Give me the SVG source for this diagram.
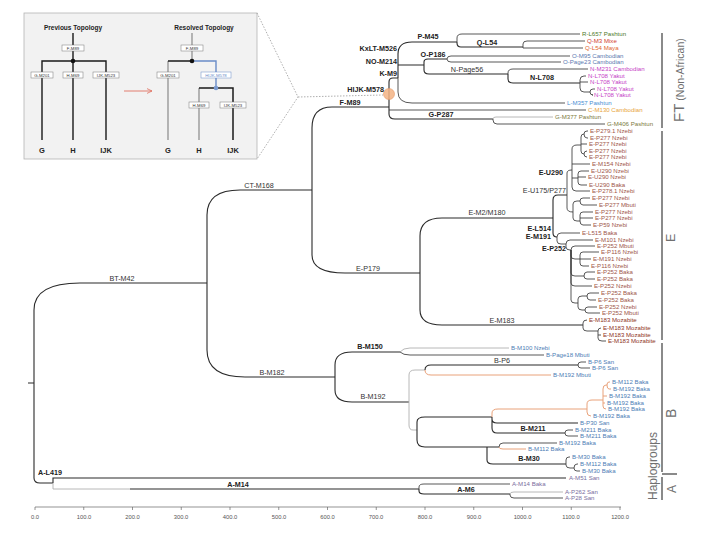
<svg xmlns="http://www.w3.org/2000/svg" width="720" height="540" viewBox="0 0 720 540">
<defs>
<style>
text{font-family:"Liberation Sans",Arial,sans-serif}
.e{fill:none;stroke:#2a2a2a;stroke-width:1.1}
.lf{fill:none;stroke:#3a3a3a;stroke-width:0.85}
.gy{fill:none;stroke:#b0b0b0;stroke-width:0.9}
.or{fill:none;stroke:#e9a27a;stroke-width:1}
.n{font-size:7.2px;fill:#333}
.nb{font-size:7.2px;fill:#222;font-weight:bold}
.l{font-size:6.1px}
.cR{fill:#4d7a2a}.cQ1{fill:#d2412c}.cQ2{fill:#e0652e}.cO{fill:#5d79b0}.cN{fill:#c640c6}
.cL{fill:#4a8fd4}.cC{fill:#e8a43a}.cG{fill:#7d7a3c}.cE{fill:#a0564a}.cM{fill:#8e3324}
.cB{fill:#4d7db5}.cA{fill:#7a6e9e}
.ib{fill:#fff;stroke:#777;stroke-width:0.5}
.it{font-size:4.3px;fill:#333;text-anchor:middle}
.tk{font-size:5.8px;fill:#555;text-anchor:middle}
.bar{stroke:#8a8a8a;stroke-width:2;fill:none}
.hg{fill:#707070}
</style>
<marker id="ah" markerWidth="6" markerHeight="6" refX="5" refY="3" orient="auto" markerUnits="userSpaceOnUse"><path d="M0,0.6 L5,3 L0,5.4" fill="none" stroke="#e07060" stroke-width="0.8"/></marker>
</defs>
<rect width="720" height="540" fill="#fff"/>

<g id="inset">
<rect x="24" y="13" width="233" height="146" fill="#f2f2f2" stroke="#b5b5b5" stroke-width="0.8"/>
<path d="M257 13 L298 97 L257 159 M298 97 L383 95" fill="none" stroke="#9a9a9a" stroke-width="0.8" stroke-dasharray="1.5 1.5"/>
<text x="73" y="30" font-size="6.5" font-weight="bold" fill="#222" text-anchor="middle">Previous Topology</text>
<text x="204" y="30" font-size="6.5" font-weight="bold" fill="#222" text-anchor="middle">Resolved Topology</text>
<path d="M73 33 V140 M42 140 V61 H106 V140" fill="none" stroke="#1a1a1a" stroke-width="1.4"/>
<circle cx="73" cy="61" r="2.3" fill="#111"/>
<rect class="ib" x="62" y="45" width="22" height="6"/><text class="it" x="73" y="49.5">F-M89</text>
<rect class="ib" x="31" y="72" width="22" height="6"/><text class="it" x="42" y="76.5">G-M201</text>
<rect class="ib" x="63" y="72" width="20" height="6"/><text class="it" x="73" y="76.5">H-M69</text>
<rect class="ib" x="93" y="72" width="26" height="6"/><text class="it" x="106" y="76.5">IJK-M523</text>
<text x="42" y="153" font-size="7.5" font-weight="bold" fill="#222" text-anchor="middle">G</text>
<text x="73" y="153" font-size="7.5" font-weight="bold" fill="#222" text-anchor="middle">H</text>
<text x="106" y="153" font-size="7.5" font-weight="bold" fill="#222" text-anchor="middle">IJK</text>
<path d="M124 91 H152" stroke="#e07060" stroke-width="0.9" marker-end="url(#ah)"/>
<path d="M192 33 V61 M168 61 V140 M199 88 V140" fill="none" stroke="#8a8a8a" stroke-width="1.2"/>
<path d="M168 61 H192 M199 88 H233 V140" fill="none" stroke="#1a1a1a" stroke-width="1.5"/>
<path d="M192 61 H216 V88" fill="none" stroke="#6a8cc8" stroke-width="1.4"/>
<circle cx="192" cy="61" r="2.3" fill="#111"/>
<circle cx="216" cy="88" r="2.3" fill="#7a9ad0"/>
<rect class="ib" x="181" y="45" width="22" height="6"/><text class="it" x="192" y="49.5">F-M89</text>
<rect class="ib" x="157" y="72" width="22" height="6"/><text class="it" x="168" y="76.5">G-M201</text>
<rect x="201" y="72" width="30" height="6" fill="#fff" stroke="#6a8cc8" stroke-width="0.5"/><text class="it" x="216" y="76.5" style="fill:#6a8cc8">HIJK-M578</text>
<rect class="ib" x="189" y="102" width="20" height="6"/><text class="it" x="199" y="106.5">H-M69</text>
<rect class="ib" x="220" y="102" width="26" height="6"/><text class="it" x="233" y="106.5">IJK-M523</text>
<text x="168" y="153" font-size="7.5" font-weight="bold" fill="#222" text-anchor="middle">G</text>
<text x="199" y="153" font-size="7.5" font-weight="bold" fill="#222" text-anchor="middle">H</text>
<text x="233" y="153" font-size="7.5" font-weight="bold" fill="#222" text-anchor="middle">IJK</text>
</g>

<g id="connectors">
<path class="e" d="M28 383 H34 M34 383 V310 Q34 283 80 283 H207 M34 383 V478 Q34 483 40 483 H53"/>
<path class="e" d="M207 283 V215 Q207 190 240 190 H312 M207 283 V350 Q207 377 245 377 H335"/>
<path class="e" d="M312 190 V128 Q312 107 332 107 H389 M312 190 V255 Q312 273 345 273 H420"/>
<path class="e" d="M389 107 V82 Q389 78 393 78 H398 M389 107 V114 Q389 119 395 119 H493"/>
<path class="lf" d="M389 110 H586"/>
<path class="e" d="M398 78 V54 Q398 42 412 42 H457 M398 78 V65 H424"/>
<path class="lf" d="M398 78 V92 Q398 103 412 103 H565"/>
<path class="e" d="M457 42 V43 Q457 47 461 47 H523 M424 65 V62 Q424 59 428 59 H447 M424 65 V70 Q424 74 429 74 H508 M508 74 V79 Q508 83 513 83 H580"/>
<path class="lf" d="M457 42 V38 Q457 34 462 34 H580 M523 47 V44 Q523 41 527 41 H585 M523 47 V48 H583"/>
<path class="lf" d="M447 59 Q447 56 451 56 H570 M447 59 Q447 62 451 62 H561 M508 74 V73 Q508 69 513 69 H588"/>
<path class="lf" d="M580 83 V80 Q580 76 584 76 H586 M580 82 H588 M580 83 V88 Q580 92 584 92 H590 M590 92 Q590 89 593 89 H595 M590 92 Q590 95 593 95 H592"/>
<path class="gy" d="M493 119 Q493 117 496 117 H553"/>
<path class="lf" d="M493 119 V120 Q493 124 497 124 H605"/>

<path class="e" d="M420 273 V236 Q420 218 442 218 H553 M420 273 V310 Q420 325 442 325 H583"/>
<path class="e" d="M553 218 V200 Q553 195 558 195 H567 M553 218 V233 Q553 237 557 237"/>
<path class="lf" d="M557 237 Q557 233 561 233 H580 M557 237 V241 Q557 244 561 244 H566"/>
<path class="lf" d="M567 195 V173 Q567 170 572 170 M567 195 V208 Q567 212 573 212"/>
<path class="lf" d="M572 170 V149 Q572 145 577 145 H581 M572 164 H590 M572 178 H578 M572 170 V187 Q572 191 576 191 H590"/>
<path class="lf" d="M581 145 V137 Q581 134 584 134 M581 144 H587 M581 145 V151 Q581 154 584 154"/>
<path class="lf" d="M584 134 Q584 131 587 131 H588 M584 134 Q584 138 587 138 H588 M584 154 Q584 151 587 151 H587 M584 154 Q584 157 587 157"/>
<path class="lf" d="M578 178 V174 Q578 171 581 171 H589 M578 177 H586 M578 178 V182 Q578 185 581 185 H587"/>
<path class="lf" d="M573 212 V204 Q573 201 577 201 H580 M573 212 V218 Q573 221 577 221 H580"/>
<path class="lf" d="M580 201 Q580 198 583 198 H590 M580 201 Q580 205 583 205 H597 M580 221 V215 Q580 212 583 212 H593 M580 218 H593 M580 221 Q580 225 583 225 H591"/>
<path class="lf" d="M566 244 Q566 240 570 240 H593 M566 244 V247 Q566 250 570 250 H571"/>
<path class="lf" d="M571 250 Q571 246 575 246 H595 M571 250 V256 Q571 259 575 259 H580 M571 250 V273 Q571 276 575 276 H584 M571 250 V283 Q571 286 575 286 H592 M571 250 V300 Q571 303 575 303 H578"/>
<path class="lf" d="M580 259 V255 Q580 252 583 252 H599 M580 259 H591 M580 259 V263 Q580 266 583 266 H589"/>
<path class="lf" d="M584 276 Q584 272 587 272 H595 M584 276 Q584 279 587 279 H595"/>
<path class="lf" d="M578 303 V299 Q578 296 582 296 H587 M578 303 V307 Q578 310 582 310 H585"/>
<path class="lf" d="M587 296 Q587 293 590 293 H599 M587 296 Q587 300 590 300 H596 M585 310 Q585 307 588 307 H597 M585 310 Q585 313 588 313 H600"/>
<path class="lf" d="M583 325 V323 Q583 320 587 320 M583 325 V328 Q583 331 587 331 H598 M598 331 Q598 328 601 328 M598 335 H601 M598 331 V338 Q598 341 602 341 H606"/>

<path class="e" d="M335 377 V365 Q335 352 352 352 H400 M335 377 V390 Q335 402 352 402 H409"/>
<path class="gy" d="M400 352 Q403 348 410 348 H509"/>
<path class="lf" d="M400 352 Q403 355 410 355 H544"/>
<path class="gy" d="M409 402 V375 Q409 370 415 370 H425 M409 402 V425 Q409 430 413 430 H417"/>
<path class="e" d="M425 370 Q425 365 431 365 H578"/>
<path class="or" d="M425 370 Q425 375 431 375 H551"/>
<path class="lf" d="M578 365 Q578 362 581 362 H586 M578 365 Q578 368 581 368 H590"/>
<path class="e" d="M417 430 V422 Q417 417 425 417 H492 M417 430 V440 Q417 447 425 447 H487"/>
<path class="or" d="M492 417 V413 Q492 409 498 409 H587"/>
<path class="e" d="M492 417 V419 Q492 423 497 423 H578 M492 417 V428 Q492 433 497 433 H565"/>
<path class="or" d="M587 409 V404 Q587 400 592 400 H603 M587 409 V412 Q587 416 591 416 M603 400 V389 Q603 385 606 385 H607 M603 396 H607 M603 403 H605 M603 400 V406 Q603 409 606 409 M607 385 Q607 382 609 382 H610 M607 385 Q607 389 609 389 H611"/>
<path class="lf" d="M565 433 Q565 430 568 430 H573 M565 433 Q565 436 568 436 H578"/>
<path class="e" d="M487 447 H499 M487 447 V460 Q487 464 493 464 H566"/>
<path class="lf" d="M499 447 Q499 443 503 443 H557"/>
<path class="or" d="M499 447 Q499 449 503 449 H526"/>
<path class="lf" d="M566 464 V460 Q566 457 569 457 H570 M566 464 V465 Q566 468 570 468 H574 M574 468 Q574 464 577 464 H578 M574 468 Q574 471 577 471 H580"/>

<path class="e" d="M53 483 V478 H566"/>
<path class="gy" d="M53 483 V489 H130"/>
<path class="e" d="M130 489 H419 M419 489 V491 Q419 494 424 494 H510"/>
<path class="lf" d="M419 489 V487 Q419 484 424 484 H510 M510 494 V495 Q510 498 514 498 H563"/>
<path class="gy" d="M510 494 Q510 492 514 492 H563"/>
</g>

<g id="node-HIJK"><circle cx="389" cy="94" r="5.5" fill="#f3b384" fill-opacity="0.85" stroke="#e59a6a" stroke-width="0.6"/></g>

<g id="internal-labels">
<g id="n-BT"><text class="n" x="122" y="281" text-anchor="middle">BT-M42</text></g>
<g id="n-CT"><text class="n" x="259" y="188" text-anchor="middle">CT-M168</text></g>
<g id="n-B182"><text class="n" x="272" y="375" text-anchor="middle">B-M182</text></g>
<g id="n-AL419"><text class="nb" x="38" y="475">A-L419</text></g>
<g id="n-AM14"><text class="nb" x="238" y="487" text-anchor="middle">A-M14</text></g>
<g id="n-AM6"><text class="nb" x="466" y="492" text-anchor="middle">A-M6</text></g>
<g id="n-F"><text class="nb" x="350" y="105" text-anchor="middle">F-M89</text></g>
<g id="n-HIJK"><text class="nb" x="384" y="92" text-anchor="end">HIJK-M578</text></g>
<g id="n-K"><text class="nb" x="397" y="76" text-anchor="end">K-M9</text></g>
<g id="n-NO"><text class="nb" x="397" y="64" text-anchor="end">NO-M214</text></g>
<g id="n-KxLT"><text class="nb" x="397" y="51" text-anchor="end">KxLT-M526</text></g>
<g id="n-P"><text class="nb" x="428" y="39" text-anchor="middle">P-M45</text></g>
<g id="n-Q"><text class="nb" x="487" y="44.5" text-anchor="middle">Q-L54</text></g>
<g id="n-O"><text class="nb" x="433" y="57" text-anchor="middle">O-P186</text></g>
<g id="n-N"><text class="n" x="467" y="72" text-anchor="middle">N-Page56</text></g>
<g id="n-NL708"><text class="nb" x="542" y="80" text-anchor="middle">N-L708</text></g>
<g id="n-G"><text class="nb" x="441" y="117" text-anchor="middle">G-P287</text></g>
<g id="n-E"><text class="n" x="368" y="271" text-anchor="middle">E-P179</text></g>
<g id="n-EM2"><text class="n" x="487" y="215" text-anchor="middle">E-M2/M180</text></g>
<g id="n-EM183"><text class="n" x="502" y="323" text-anchor="middle">E-M183</text></g>
<g id="n-EU290"><text class="nb" x="563" y="175" text-anchor="end">E-U290</text></g>
<g id="n-EU175"><text class="n" x="566" y="193" text-anchor="end">E-U175/P277</text></g>
<g id="n-EL514"><text class="nb" x="551" y="231" text-anchor="end">E-L514</text></g>
<g id="n-EM191"><text class="nb" x="551" y="238.5" text-anchor="end">E-M191</text></g>
<g id="n-EP252"><text class="nb" x="566" y="251" text-anchor="end">E-P252</text></g>
<g id="n-BM150"><text class="nb" x="370" y="349" text-anchor="middle">B-M150</text></g>
<g id="n-BM192"><text class="n" x="373" y="399" text-anchor="middle">B-M192</text></g>
<g id="n-BP6"><text class="n" x="502" y="363" text-anchor="middle">B-P6</text></g>
<g id="n-BM211"><text class="nb" x="533" y="431" text-anchor="middle">B-M211</text></g>
<g id="n-BM30"><text class="nb" x="529" y="461" text-anchor="middle">B-M30</text></g>
</g>

<g id="leaves" class="l">
<g id="lf1"><text class="cR" x="582" y="36.2">R-L657 Pashtun</text></g>
<g id="lf2"><text class="cQ1" x="587" y="43.2">Q-M3 Mixe</text></g>
<g id="lf3"><text class="cQ2" x="585" y="50.2">Q-L54 Maya</text></g>
<g id="lf4"><text class="cO" x="572" y="58.2">O-M95 Cambodian</text></g>
<g id="lf5"><text class="cO" x="563" y="64.2">O-Page23 Cambodian</text></g>
<g id="lf6"><text class="cN" x="590" y="71.2">N-M231 Cambodian</text></g>
<g id="lf7"><text class="cN" x="588" y="78.2">N-L708 Yakut</text></g>
<g id="lf8"><text class="cN" x="590" y="84.2">N-L708 Yakut</text></g>
<g id="lf9"><text class="cN" x="597" y="91.2">N-L708 Yakut</text></g>
<g id="lf10"><text class="cN" x="594" y="97.2">N-L708 Yakut</text></g>
<g id="lf11"><text class="cL" x="567" y="105.2">L-M357 Pashtun</text></g>
<g id="lf12"><text class="cC" x="588" y="112.2">C-M130 Cambodian</text></g>
<g id="lf13"><text class="cG" x="555" y="119.2">G-M377 Pashtun</text></g>
<g id="lf14"><text class="cG" x="607" y="126.2">G-M406 Pashtun</text></g>
<g id="lf15"><text class="cE" x="590" y="133.2">E-P279.1 Nzebi</text></g>
<g id="lf16"><text class="cE" x="590" y="140.2">E-P277 Nzebi</text></g>
<g id="lf17"><text class="cE" x="589" y="146.2">E-P277 Nzebi</text></g>
<g id="lf18"><text class="cE" x="589" y="153.2">E-P277 Nzebi</text></g>
<g id="lf19"><text class="cE" x="589" y="159.2">E-P277 Nzebi</text></g>
<g id="lf20"><text class="cE" x="592" y="166.2">E-M154 Nzebi</text></g>
<g id="lf21"><text class="cE" x="591" y="173.2">E-U290 Nzebi</text></g>
<g id="lf22"><text class="cE" x="588" y="179.2">E-U290 Nzebi</text></g>
<g id="lf23"><text class="cE" x="589" y="187.2">E-U290 Baka</text></g>
<g id="lf24"><text class="cE" x="592" y="193.2">E-P278.1 Nzebi</text></g>
<g id="lf25"><text class="cE" x="592" y="200.2">E-P277 Nzebi</text></g>
<g id="lf26"><text class="cE" x="599" y="207.2">E-P277 Mbuti</text></g>
<g id="lf27"><text class="cE" x="595" y="214.2">E-P277 Nzebi</text></g>
<g id="lf28"><text class="cE" x="595" y="220.2">E-P277 Nzebi</text></g>
<g id="lf29"><text class="cE" x="593" y="227.2">E-P59 Nzebi</text></g>
<g id="lf30"><text class="cE" x="582" y="235.2">E-L515 Baka</text></g>
<g id="lf31"><text class="cE" x="595" y="242.2">E-M101 Nzebi</text></g>
<g id="lf32"><text class="cE" x="597" y="248.2">E-P252 Mbuti</text></g>
<g id="lf33"><text class="cE" x="601" y="254.2">E-P116 Nzebi</text></g>
<g id="lf34"><text class="cE" x="593" y="261.2">E-M191 Nzebi</text></g>
<g id="lf35"><text class="cE" x="591" y="268.2">E-P116 Nzebi</text></g>
<g id="lf36"><text class="cE" x="597" y="274.2">E-P252 Baka</text></g>
<g id="lf37"><text class="cE" x="597" y="281.2">E-P252 Baka</text></g>
<g id="lf38"><text class="cE" x="594" y="288.2">E-P252 Nzebi</text></g>
<g id="lf39"><text class="cE" x="601" y="295.2">E-P252 Baka</text></g>
<g id="lf40"><text class="cE" x="598" y="302.2">E-P252 Baka</text></g>
<g id="lf41"><text class="cE" x="599" y="309.2">E-P252 Nzebi</text></g>
<g id="lf42"><text class="cE" x="602" y="315.2">E-P252 Mbuti</text></g>
<g id="lf43"><text class="cM" x="589" y="322.2">E-M183 Mozabite</text></g>
<g id="lf44"><text class="cM" x="603" y="330.2">E-M183 Mozabite</text></g>
<g id="lf45"><text class="cM" x="603" y="337.2">E-M183 Mozabite</text></g>
<g id="lf46"><text class="cM" x="608" y="343.2">E-M183 Mozabite</text></g>
<g id="lf47"><text class="cB" x="511" y="350.2">B-M100 Nzebi</text></g>
<g id="lf48"><text class="cB" x="546" y="357.2">B-Page18 Mbuti</text></g>
<g id="lf49"><text class="cB" x="588" y="364.2">B-P6 San</text></g>
<g id="lf50"><text class="cB" x="592" y="370.2">B-P6 San</text></g>
<g id="lf51"><text class="cB" x="553" y="377.2">B-M192 Mbuti</text></g>
<g id="lf52"><text class="cB" x="612" y="384">B-M112 Baka</text></g>
<g id="lf53"><text class="cB" x="613" y="391">B-M192 Baka</text></g>
<g id="lf54"><text class="cB" x="609" y="398.2">B-M192 Baka</text></g>
<g id="lf55"><text class="cB" x="607" y="405.2">B-M192 Baka</text></g>
<g id="lf56"><text class="cB" x="608" y="411.2">B-M192 Baka</text></g>
<g id="lf57"><text class="cB" x="593" y="418.2">B-M192 Baka</text></g>
<g id="lf58"><text class="cB" x="580" y="425.2">B-P30 San</text></g>
<g id="lf59"><text class="cB" x="575" y="432.2">B-M211 Baka</text></g>
<g id="lf60"><text class="cB" x="580" y="438.2">B-M211 Baka</text></g>
<g id="lf61"><text class="cB" x="559" y="445.2">B-M192 Baka</text></g>
<g id="lf62"><text class="cB" x="528" y="451.2">B-M112 Baka</text></g>
<g id="lf63"><text class="cB" x="572" y="459.2">B-M30 Baka</text></g>
<g id="lf64"><text class="cB" x="580" y="466.2">B-M112 Baka</text></g>
<g id="lf65"><text class="cB" x="582" y="473.2">B-M30 Baka</text></g>
<g id="lf66"><text class="cA" x="569" y="480.2">A-M51 San</text></g>
<g id="lf67"><text class="cA" x="512" y="486.2">A-M14 Baka</text></g>
<g id="lf68"><text class="cA" x="565" y="494.2">A-P262 San</text></g>
<g id="lf69"><text class="cA" x="565" y="500.2">A-P28 San</text></g>
</g>

<g id="groups">
<path class="bar" d="M662 33 V128 M662 131 V340 M662 343 V472 M662 477 V500 M662 474 H677"/>
<text class="hg" transform="translate(684,122) rotate(-90)" font-size="15">FT<tspan font-size="10.5" dx="3">(Non-African)</tspan></text>
<text class="hg" transform="translate(675,242) rotate(-90)" font-size="12.5">E</text>
<text class="hg" transform="translate(676,418) rotate(-90)" font-size="14">B</text>
<text class="hg" transform="translate(676,493) rotate(-90)" font-size="12">A</text>
<text class="hg" transform="translate(657,500) rotate(-90)" font-size="12">Haplogroups</text>
</g>

<g id="axis">
<path d="M35 507 H621 M35 507 v3 M83.75 507 v3 M132.5 507 v3 M181.25 507 v3 M230 507 v3 M278.75 507 v3 M327.5 507 v3 M376.25 507 v3 M425 507 v3 M473.75 507 v3 M522.5 507 v3 M571.25 507 v3 M620 507 v3" fill="none" stroke="#666" stroke-width="0.7"/>
<text class="tk" x="35" y="519">0.0</text>
<text class="tk" x="84" y="519">100.0</text>
<text class="tk" x="132.5" y="519">200.0</text>
<text class="tk" x="181" y="519">300.0</text>
<text class="tk" x="230" y="519">400.0</text>
<text class="tk" x="279" y="519">500.0</text>
<text class="tk" x="327.5" y="519">600.0</text>
<text class="tk" x="376" y="519">700.0</text>
<text class="tk" x="425" y="519">800.0</text>
<text class="tk" x="474" y="519">900.0</text>
<text class="tk" x="522.5" y="519">1000.0</text>
<text class="tk" x="571" y="519">1100.0</text>
<text class="tk" x="620" y="519">1200.0</text>
</g>
</svg>
